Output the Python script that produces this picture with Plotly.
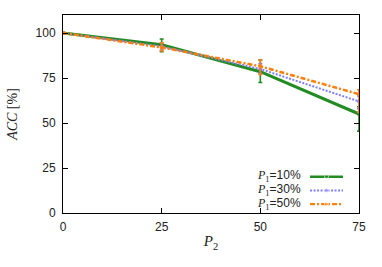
import plotly.graph_objects as go

p2 = [0, 25, 50, 75]
acc_p1_10 = [100, 93.5, 78.5, 55]
acc_p1_30 = [100, 92.5, 80.0, 62]
acc_p1_50 = [100, 92.0, 81.5, 66]
err_hi_10 = [0, 3.2, 6.5, 4.0]
err_lo_10 = [0, 3.9, 6.0, 9.5]
err_hi_30 = [0, 2.0, 3.0, 3.0]
err_lo_30 = [0, 2.0, 2.5, 4.0]
err_hi_50 = [0, 2.5, 3.5, 2.5]
err_lo_50 = [0, 2.0, 4.5, 10.0]
labels = ["P1=10%", "P1=30%", "P1=50%"]
label_html = ['<span style="font-family:Liberation Serif"><i>P</i><sub>1</sub></span>=10%',
              '<span style="font-family:Liberation Serif"><i>P</i><sub>1</sub></span>=30%',
              '<span style="font-family:Liberation Serif"><i>P</i><sub>1</sub></span>=50%']

series = [
    (acc_p1_10, err_hi_10, err_lo_10, "#228b22", "solid", 3),
    (acc_p1_30, err_hi_30, err_lo_30, "#8080ff", "2px,1.5px", 2),
    (acc_p1_50, err_hi_50, err_lo_50, "#ff7f0e", "5px,2px,2px,2px", 2.5),
]

fig = go.Figure()
for (ys, hi, lo, col, dash, w), name in zip(series, labels):
    fig.add_trace(go.Scatter(
        x=p2, y=ys, name=name, mode="lines+markers", showlegend=False,
        line=dict(color=col, dash=dash, width=w),
        marker=dict(color=col, size=4),
        error_y=dict(type="data", symmetric=False, array=hi, arrayminus=lo,
                     color=col, thickness=1.6, width=2),
    ))

# legend key samples (text left, line right) on an auxiliary axis pair
legend_rows = [2, 1, 0]
for (ys, hi, lo, col, dash, w), row, txt in zip(series, legend_rows, label_html):
    fig.add_trace(go.Scatter(
        x=[0, 0.5, 1], y=[row, row, row], mode="lines+markers", showlegend=False,
        line=dict(color=col, dash=dash, width=w), marker=dict(color=col, size=[0, 4, 0]),
        xaxis="x2", yaxis="y2", hoverinfo="skip",
    ))
    fig.add_annotation(x=-0.2, y=row, xref="x2", yref="y2", text=txt, showarrow=False,
                       xanchor="right", yanchor="middle",
                       font=dict(family="Liberation Sans", size=12, color="#222"))

axis_common = dict(showline=True, linecolor="black", linewidth=1, mirror="ticks",
                   ticks="inside", ticklen=5, tickcolor="black", showgrid=False,
                   zeroline=False, automargin=False,
                   tickfont=dict(family="Liberation Sans", size=12, color="#222"))

fig.update_layout(
    width=382, height=267,
    margin=dict(l=63, r=23, t=15, b=54),
    plot_bgcolor="white", paper_bgcolor="white",
    xaxis=dict(range=[0, 75], tickvals=[0, 25, 50, 75], ticklabelstandoff=3,
               title=dict(text="<i>P</i><sub>2</sub>", standoff=2,
                          font=dict(family="Liberation Serif", size=15, color="#222")),
               **axis_common),
    yaxis=dict(range=[0, 110], tickvals=[0, 25, 50, 75, 100], ticklabelstandoff=4,
               title=dict(text="<i>ACC</i> [%]", standoff=14,
                          font=dict(family="Liberation Serif", size=14, color="#222")),
               **axis_common),
    xaxis2=dict(domain=[0.632, 0.946], range=[-1.82, 1], visible=False, anchor="y2"),
    yaxis2=dict(domain=[0.038, 0.19], range=[-0.08, 2.08], visible=False, anchor="x2"),
)

fig.write_html("out.html", config={"displayModeBar": False},
               post_script="document.body.style.margin='0';")
